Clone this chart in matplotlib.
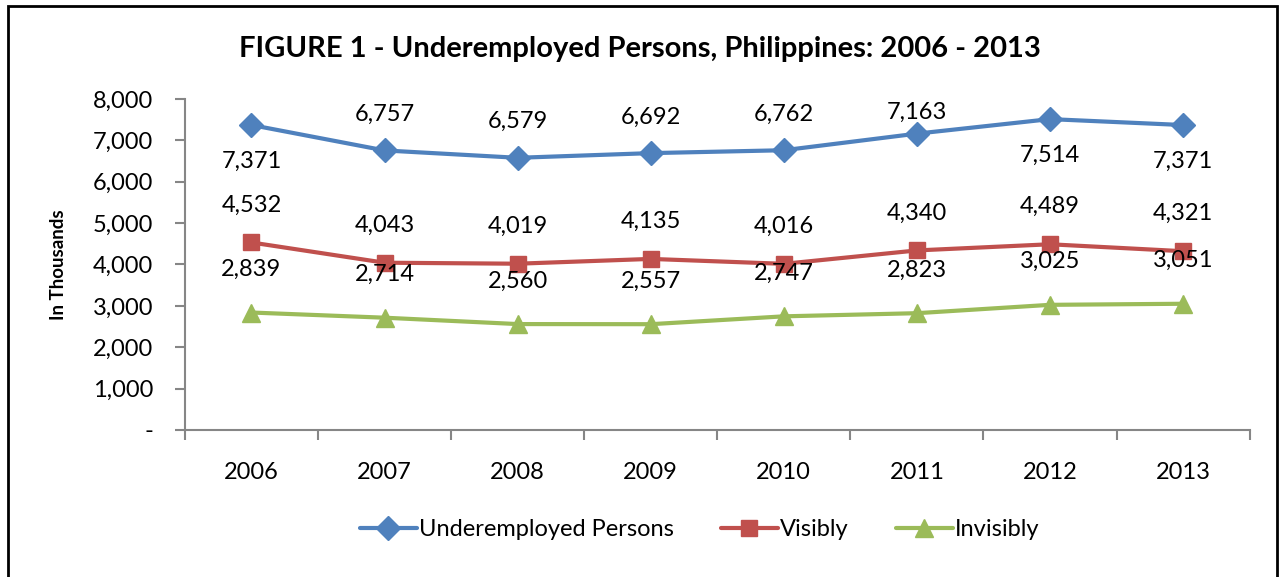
import matplotlib.pyplot as plt
from matplotlib.patches import Rectangle
from matplotlib.ticker import FuncFormatter

plt.rcParams['font.family'] = ['Lato', 'DejaVu Sans']

years = ['2006', '2007', '2008', '2009', '2010', '2011', '2012', '2013']
underemployed = [7371, 6757, 6579, 6692, 6762, 7163, 7514, 7371]
visibly = [4532, 4043, 4019, 4135, 4016, 4340, 4489, 4321]
invisibly = [2839, 2714, 2560, 2557, 2747, 2823, 3025, 3051]
# label offsets (points) for the blue series: + above, - below
under_off = [-26, 26, 26, 26, 26, 15, -26, -26]

fig = plt.figure(figsize=(12.79, 5.77), dpi=100)
ax = fig.add_axes([0.1446, 0.2548, 0.8324, 0.5736])

# outer chart frame
fig.patches.append(Rectangle((8 / 1279, -0.01), 1269 / 1279, 1 - 6 / 577 + 0.01,
                             transform=fig.transFigure, fill=False,
                             edgecolor='black', linewidth=2))

x = list(range(len(years)))
series = [
    (underemployed, '#4F81BD', 'D', 12, 'Underemployed Persons'),
    (visibly, '#C0504D', 's', 12, 'Visibly'),
    (invisibly, '#9BBB59', '^', 13, 'Invisibly'),
]
for vals, col, mk, ms, name in series:
    ax.plot(x, vals, color=col, marker=mk, markersize=ms, linewidth=3,
            label=name, solid_capstyle='round')

fs = 17
for i, v in enumerate(underemployed):
    ax.annotate(f'{v:,}', (i, v), xytext=(0, under_off[i]),
                textcoords='offset points', ha='center', va='center', fontsize=fs)
for i, v in enumerate(visibly):
    ax.annotate(f'{v:,}', (i, v), xytext=(0, 27), textcoords='offset points',
                ha='center', va='center', fontsize=fs)
for i, v in enumerate(invisibly):
    ax.annotate(f'{v:,}', (i, v), xytext=(0, 31), textcoords='offset points',
                ha='center', va='center', fontsize=fs)

ax.set_xlim(-0.5, 7.5)
ax.set_ylim(0, 8000)
ax.set_yticks(range(0, 8001, 1000))
ax.yaxis.set_major_formatter(FuncFormatter(lambda v, p: '-' if v == 0 else f'{int(v):,}'))

ax.set_xticks([i - 0.5 for i in range(len(years) + 1)])
ax.set_xticklabels([])
ax.set_xticks(x, minor=True)
ax.set_xticklabels(years, minor=True)
ax.tick_params(axis='x', which='minor', length=0, pad=23, labelsize=fs)
ax.tick_params(axis='x', which='major', length=7, width=1.5, color='#868686', direction='out')
ax.tick_params(axis='y', length=7, width=1.5, color='#868686', labelsize=fs, pad=16)

for s in ['top', 'right']:
    ax.spines[s].set_visible(False)
for s in ['left', 'bottom']:
    ax.spines[s].set_color('#868686')
    ax.spines[s].set_linewidth(1.5)

ax.set_ylabel('In Thousands', fontsize=13.5, fontweight='bold', labelpad=18)

fig.text(0.5, 0.915, 'FIGURE 1 - Underemployed Persons, Philippines: 2006 - 2013',
         ha='center', va='center', fontsize=21, fontweight='bold')

fig.legend(loc='center', bbox_to_anchor=(0.547, 0.082), ncol=3, frameon=False,
           fontsize=fs, handlelength=2.4, handletextpad=0.1, columnspacing=2.0)

fig.savefig('out.png', dpi=100)
